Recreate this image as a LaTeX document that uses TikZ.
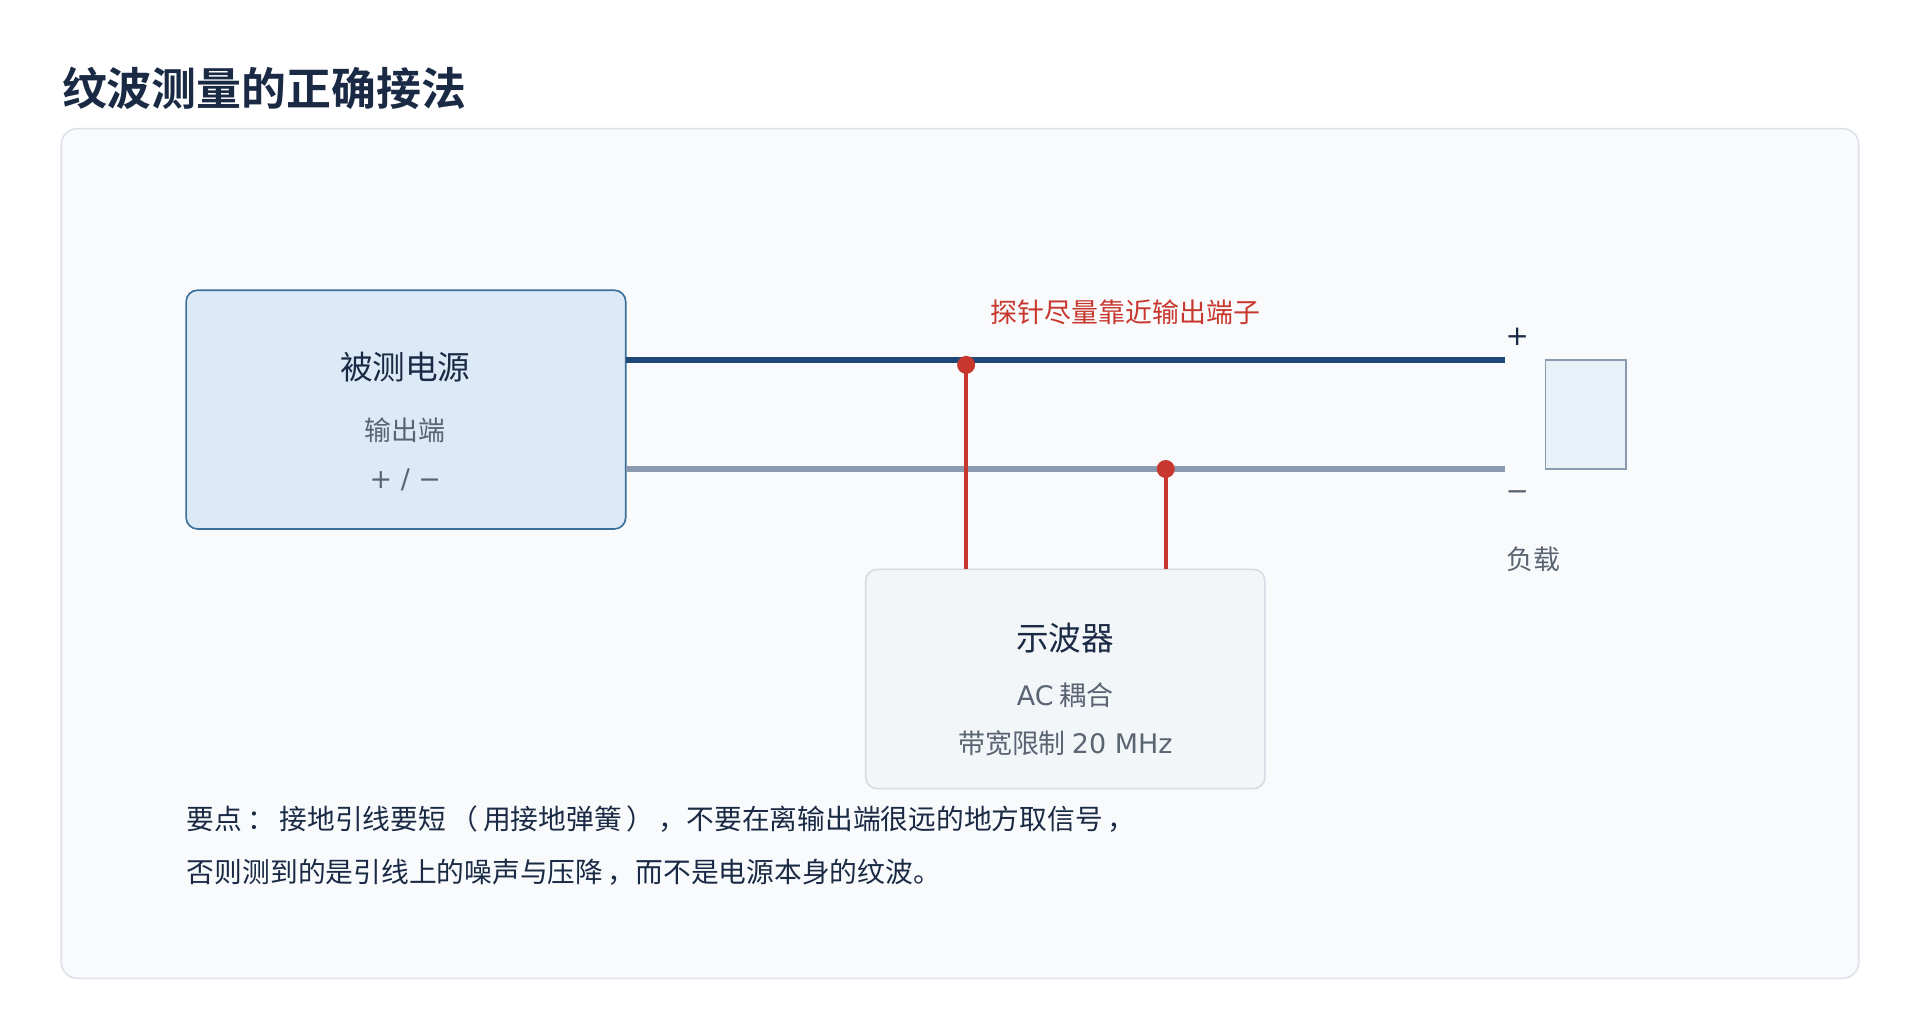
\documentclass[tikz,border=0pt]{standalone}
\usepackage{fontspec}
\setmainfont{Noto Sans CJK SC}
\newfontfamily\cjkb{Noto Sans CJK SC Bold}
\newfontfamily\lat{DejaVu Sans}
\definecolor{navy}{HTML}{1A2A44}
\definecolor{wireA}{HTML}{1F4878}
\definecolor{wireB}{HTML}{8A9AB0}
\definecolor{probe}{HTML}{C8372D}
\definecolor{grayt}{HTML}{5A6472}
\definecolor{panel}{HTML}{F8FAFC}
\definecolor{panelb}{HTML}{DDE2E8}
\definecolor{psfill}{HTML}{DCE9F6}
\definecolor{psdraw}{HTML}{3A6F9A}
\definecolor{loadf}{HTML}{E8F0F8}
\definecolor{scf}{HTML}{F3F6F9}
\definecolor{scd}{HTML}{D5DCE4}
\begin{document}
\begin{tikzpicture}[x=0.75pt,y=-0.75pt,
  lbl/.style={font=\fontsize{20}{24}\selectfont,text=navy},
  sub/.style={font=\fontsize{16.5}{20}\selectfont,text=grayt},
  wire/.style={line width=3.2pt},
  dot/.style={circle,fill=probe,inner sep=0pt,minimum size=11pt}]
\useasboundingbox (0,0) rectangle (1568,846);
\fill[white] (0,0) rectangle (1568,846);
\node[anchor=west,font=\cjkb\fontsize{27.5}{32}\selectfont,text=navy] (title) at (46,72) {纹波测量的正确接法};
\draw[draw=panelb,fill=panel,rounded corners=10pt,line width=1pt] (50,105) rectangle (1518,799);
% power supply
\draw[draw=psdraw,fill=psfill,rounded corners=7pt,line width=1pt] (152,237) rectangle (511,432);
\node[lbl] (ps) at (331,300) {被测电源};
\node[sub] (ps2) at (331,351) {输出端};
\node[sub] (ps3) at (331,392) {\lat + / −};
\coordinate (psA) at (511,294);
\coordinate (psB) at (511,383);
\coordinate (endA) at (1229,294);
\coordinate (endB) at (1229,383);
\draw[wire,wireA] (psA) -- (endA);
\draw[wire,wireB] (psB) -- (endB);
% scope
\draw[draw=scd,fill=scf,rounded corners=7pt,line width=1pt] (707,465) rectangle (1033,644);
\node[lbl] (sc) at (870,521) {示波器};
\node[sub] (sc2) at (870,568) {{\lat AC} 耦合};
\node[sub] (sc3) at (870,607) {带宽限制 {\lat 20 MHz}};
\coordinate (p1) at (789,298);
\coordinate (p2) at (952,383);
\coordinate (s1) at (789,465);
\coordinate (s2) at (952,465);
\draw[probe,line width=2.4pt] (p1) -- (s1);
\draw[probe,line width=2.4pt] (p2) -- (s2);
\node[dot] (d1) at (p1) {};
\node[dot] (d2) at (p2) {};
\node[font=\fontsize{16.5}{20}\selectfont,text=probe] (plbl) at (919,255) {探针尽量靠近输出端子};
% load
\draw[draw=wireB,fill=loadf,line width=1pt] (1262,294) rectangle (1328,383);
\node[lbl,font=\lat\fontsize{17}{20}\selectfont] (plus) at (1239,275) {+};
\node[sub,font=\lat\fontsize{17}{20}\selectfont] (minus) at (1239,405) {−};
\node[sub] (load) at (1252,457) {负载};
% notes
\node[lbl,anchor=west,font=\fontsize{17}{20}\selectfont] (n1) at (148,669) {要点\,：\,接地引线要短\,（\,用接地弹簧\,）\,，不要在离输出端很远的地方取信号\,，};
\node[lbl,anchor=west,font=\fontsize{17}{20}\selectfont] (n2) at (148,712) {否则测到的是引线上的噪声与压降\,，而不是电源本身的纹波。};
\end{tikzpicture}
\end{document}
